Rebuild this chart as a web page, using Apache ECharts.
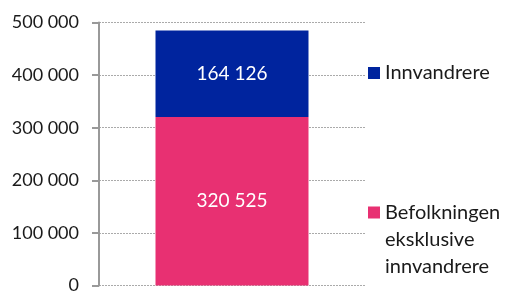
<!DOCTYPE html>
<html>
<head>
<meta charset="utf-8">
<script src="https://cdn.jsdelivr.net/npm/echarts@6/dist/echarts.min.js"></script>
<style>html,body{margin:0;padding:0;background:#fff}#c{width:505px;height:291px}</style>
</head>
<body>
<div id="c"></div>
<script>
var categories = [''];
var seriesNames = ['Befolkningen eksklusive innvandrere', 'Innvandrere'];
var befolkning = [320525];
var innvandrere = [164126];
var yTicks = [0, 100000, 200000, 300000, 400000, 500000];

function fmt(v) { return String(v).replace(/\B(?=(\d{3})+(?!\d))/g, ' '); }
var FONT = 'Lato';
var chart = echarts.init(document.getElementById('c'), null, {renderer: 'canvas'});
chart.setOption({
  animation: false,
  textStyle: {fontFamily: FONT},
  grid: {left: 99, right: 140, top: 22.5, bottom: 5.5, containLabel: false, outerBoundsMode: 'none'},
  legend: [
    {
      data: [seriesNames[1]], orient: 'vertical', left: 368, top: 63,
      itemWidth: 12, itemHeight: 12, itemGap: 0, icon: 'rect',
      textStyle: {fontFamily: FONT, fontSize: 20, color: '#1a1a1a', padding: [0, 0, 0, 0]},
      padding: 0, selectedMode: false
    },
    {
      data: [seriesNames[0]], orient: 'vertical', left: 368, top: 199,
      itemWidth: 12, itemHeight: 66, icon: 'path://M0,0h12v12h-12zM0,65.9h12v0.1h-12z',
      formatter: function () { return 'Befolkningen\neksklusive\ninnvandrere'; },
      textStyle: {fontFamily: FONT, fontSize: 20, color: '#1a1a1a', lineHeight: 27},
      padding: 0, selectedMode: false
    }
  ],
  xAxis: {
    type: 'category', data: categories,
    axisLine: {show: false}, axisTick: {show: false}, axisLabel: {show: false}
  },
  yAxis: {
    type: 'value', min: 0, max: 500000, interval: 100000,
    axisLine: {show: true, lineStyle: {color: '#999', width: 2}},
    axisTick: {show: true, length: 7, lineStyle: {color: '#999', width: 2}},
    axisLabel: {fontFamily: FONT, fontSize: 18, color: '#1a1a1a', margin: 20, formatter: function (v) { return fmt(v); }},
    splitLine: {show: true, lineStyle: {color: '#aaa', type: [2, 1], width: 1}}
  },
  series: [
    {
      name: seriesNames[0], type: 'bar', stack: 'a', data: befolkning, barWidth: 153,
      itemStyle: {color: '#e83072'},
      label: {show: true, position: 'inside', color: '#fff', fontFamily: FONT, fontSize: 19, formatter: function (p) { return fmt(p.value); }}
    },
    {
      name: seriesNames[1], type: 'bar', stack: 'a', data: innvandrere, barWidth: 153,
      itemStyle: {color: '#00249e'},
      label: {show: true, position: 'inside', color: '#fff', fontFamily: FONT, fontSize: 19, formatter: function (p) { return fmt(p.value); }}
    }
  ]
});
</script>
</body>
</html>
